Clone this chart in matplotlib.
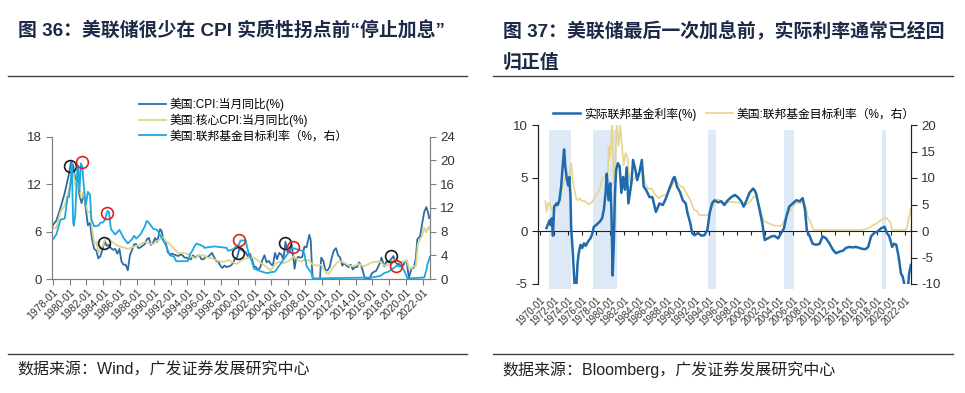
import matplotlib
matplotlib.use('Agg')
import matplotlib.pyplot as plt
from matplotlib.lines import Line2D
import numpy as np

plt.rcParams['font.family'] = ['Liberation Sans', 'Noto Sans CJK SC']
plt.rcParams['axes.unicode_minus'] = False

# ---------------- 图36 数据 ----------------
cpi_dates = ['1978-01', '1978-06', '1978-12', '1979-06', '1979-12', '1980-03', '1980-06', '1980-09', '1980-12',
             '1981-03', '1981-06', '1981-09', '1981-12', '1982-03', '1982-06', '1982-09', '1982-12',
             '1983-03', '1983-06', '1983-09', '1983-12', '1984-03', '1984-06', '1984-09', '1984-12',
             '1985-03', '1985-06', '1985-09', '1985-12', '1986-03', '1986-06', '1986-09', '1986-12',
             '1987-03', '1987-06', '1987-09', '1987-12', '1988-03', '1988-06', '1988-09', '1988-12',
             '1989-03', '1989-06', '1989-09', '1989-12', '1990-03', '1990-06', '1990-10', '1990-12',
             '1991-03', '1991-06', '1991-09', '1991-12', '1992-03', '1992-06', '1992-09', '1992-12',
             '1993-03', '1993-06', '1993-09', '1993-12', '1994-03', '1994-06', '1994-09', '1994-12',
             '1995-03', '1995-06', '1995-09', '1995-12', '1996-03', '1996-06', '1996-09', '1996-12',
             '1997-03', '1997-06', '1997-09', '1997-12', '1998-03', '1998-06', '1998-09', '1998-12',
             '1999-03', '1999-06', '1999-09', '1999-12', '2000-03', '2000-06', '2000-09', '2000-12',
             '2001-03', '2001-06', '2001-09', '2001-12', '2002-03', '2002-06', '2002-09', '2002-12',
             '2003-03', '2003-06', '2003-09', '2003-12', '2004-03', '2004-06', '2004-09', '2004-12',
             '2005-03', '2005-06', '2005-09', '2005-12', '2006-03', '2006-06', '2006-09', '2006-10', '2006-12',
             '2007-03', '2007-06', '2007-09', '2007-12', '2008-03', '2008-07', '2008-09', '2008-11', '2008-12',
             '2009-03', '2009-07', '2009-10', '2009-12', '2010-03', '2010-06', '2010-09', '2010-12',
             '2011-03', '2011-06', '2011-09', '2011-12', '2012-03', '2012-06', '2012-09', '2012-12',
             '2013-03', '2013-06', '2013-09', '2013-12', '2014-03', '2014-06', '2014-09', '2014-12',
             '2015-03', '2015-06', '2015-09', '2015-12', '2016-03', '2016-06', '2016-09', '2016-12',
             '2017-02', '2017-06', '2017-09', '2017-12', '2018-03', '2018-07', '2018-09', '2018-12',
             '2019-03', '2019-06', '2019-09', '2019-12', '2020-02', '2020-05', '2020-09', '2020-12',
             '2021-03', '2021-05', '2021-09', '2021-12', '2022-03', '2022-06', '2022-09', '2022-10']
cpi_values = [6.8, 7.4, 9.0, 10.9, 13.3, 14.8, 14.4, 12.6, 12.5,
              10.6, 9.6, 11.0, 8.9, 6.8, 7.1, 5.0, 3.8,
              3.6, 2.6, 2.9, 3.8, 4.8, 4.2, 4.3, 3.9,
              3.7, 3.8, 3.2, 3.8, 2.2, 1.8, 1.8, 1.1,
              3.0, 3.7, 4.4, 4.4, 3.9, 4.0, 4.2, 4.4,
              5.0, 5.2, 4.3, 4.6, 5.2, 4.7, 6.3, 6.1,
              4.9, 4.7, 3.4, 3.1, 3.2, 3.1, 3.0, 2.9,
              3.1, 3.0, 2.7, 2.7, 2.5, 2.5, 3.0, 2.7,
              2.9, 3.0, 2.5, 2.5, 2.8, 2.8, 3.0, 3.3,
              2.8, 2.3, 2.2, 1.7, 1.4, 1.7, 1.5, 1.6,
              1.7, 2.0, 2.6, 2.7, 3.8, 3.7, 3.5, 3.4,
              2.9, 3.2, 2.6, 1.6, 1.5, 1.1, 1.5, 2.4,
              3.0, 2.1, 2.3, 1.9, 1.7, 3.3, 2.5, 3.3,
              3.1, 2.5, 4.7, 3.4, 3.4, 4.3, 2.1, 1.3, 2.5,
              2.8, 2.7, 2.8, 4.1, 4.0, 5.6, 4.9, 1.1, 0.1,
              -0.4, -2.1, -0.2, 2.7, 2.3, 1.1, 1.1, 1.5,
              2.7, 3.6, 3.9, 3.0, 2.7, 1.7, 2.0, 1.7,
              1.5, 1.8, 1.2, 1.5, 1.5, 2.1, 1.7, 0.8,
              -0.1, 0.1, 0.0, 0.7, 0.9, 1.0, 1.5, 2.1,
              2.7, 1.6, 2.2, 2.1, 2.4, 2.9, 2.3, 1.9,
              1.9, 1.6, 1.7, 2.3, 2.3, 0.1, 1.4, 1.4,
              2.6, 5.0, 5.4, 7.0, 8.5, 9.1, 8.2, 7.7]

core_dates = ['1978-01', '1978-06', '1978-12', '1979-06', '1979-12', '1980-03', '1980-06', '1980-09', '1980-12',
              '1981-03', '1981-06', '1981-09', '1981-12', '1982-03', '1982-06', '1982-09', '1982-12',
              '1983-03', '1983-06', '1983-09', '1983-12', '1984-03', '1984-06', '1984-09', '1984-12',
              '1985-06', '1985-12', '1986-06', '1986-12', '1987-06', '1987-12', '1988-06', '1988-12',
              '1989-06', '1989-12', '1990-06', '1990-12', '1991-03', '1991-06', '1991-12', '1992-06', '1992-12',
              '1993-06', '1993-12', '1994-06', '1994-12', '1995-06', '1995-12', '1996-06', '1996-12',
              '1997-06', '1997-12', '1998-06', '1998-12', '1999-06', '1999-12', '2000-06', '2000-12',
              '2001-06', '2001-12', '2002-06', '2002-12', '2003-06', '2003-12', '2004-06', '2004-12',
              '2005-06', '2005-12', '2006-06', '2006-09', '2006-12', '2007-06', '2007-12', '2008-06', '2008-12',
              '2009-06', '2009-12', '2010-06', '2010-10', '2010-12', '2011-06', '2011-12', '2012-06', '2012-12',
              '2013-06', '2013-12', '2014-06', '2014-12', '2015-06', '2015-12', '2016-06', '2016-12',
              '2017-06', '2017-12', '2018-07', '2018-12', '2019-06', '2019-12', '2020-02', '2020-06', '2020-12',
              '2021-03', '2021-06', '2021-12', '2022-03', '2022-06', '2022-09', '2022-10']
core_values = [6.4, 6.5, 8.5, 9.3, 11.3, 12.2, 13.6, 11.8, 12.2,
               11.3, 10.2, 11.0, 9.5, 8.4, 8.5, 6.3, 4.5,
               4.7, 3.3, 4.0, 4.1, 4.9, 5.1, 5.0, 4.8,
               4.4, 4.1, 4.0, 3.8, 4.0, 4.2, 4.4, 4.7,
               4.5, 4.4, 4.8, 5.2, 5.3, 4.8, 4.4, 3.8, 3.3,
               3.3, 3.2, 2.9, 2.6, 3.0, 3.0, 2.7, 2.6,
               2.4, 2.2, 2.2, 2.4, 2.1, 1.9, 2.4, 2.6,
               2.7, 2.7, 2.3, 1.9, 1.5, 1.1, 1.9, 2.2,
               2.0, 2.2, 2.6, 2.9, 2.6, 2.2, 2.4, 2.4, 1.8,
               1.7, 1.8, 0.9, 0.6, 0.8, 1.6, 2.2, 2.2, 1.9,
               1.6, 1.7, 1.9, 1.6, 1.8, 2.1, 2.2, 2.2,
               1.7, 1.8, 2.4, 2.2, 2.1, 2.3, 2.4, 1.2, 1.6,
               1.6, 4.5, 5.5, 6.5, 5.9, 6.6, 6.3]

ffr_dates = ['1978-01', '1978-06', '1978-12', '1979-06', '1979-10', '1979-12', '1980-03', '1980-04', '1980-06',
             '1980-07', '1980-09', '1980-12', '1981-01', '1981-03', '1981-05', '1981-07', '1981-09', '1981-12',
             '1982-03', '1982-06', '1982-08', '1982-12', '1983-06', '1983-09', '1983-12', '1984-03', '1984-07',
             '1984-09', '1984-12', '1985-06', '1985-12', '1986-06', '1986-12', '1987-06', '1987-09', '1987-12',
             '1988-06', '1988-12', '1989-03', '1989-06', '1989-12', '1990-06', '1990-12', '1991-06', '1991-12',
             '1992-06', '1992-09', '1994-01', '1994-03', '1994-05', '1994-08', '1994-11', '1995-02', '1995-07',
             '1995-12', '1996-01', '1997-03', '1998-09', '1998-11', '1999-06', '1999-11', '2000-02', '2000-05',
             '2000-12', '2001-03', '2001-06', '2001-09', '2001-12', '2002-11', '2003-06', '2004-06', '2004-12',
             '2005-06', '2005-12', '2006-06', '2007-09', '2007-12', '2008-03', '2008-04', '2008-10', '2008-12',
             '2015-12', '2016-12', '2017-06', '2017-12', '2018-06', '2018-12', '2019-07', '2019-10', '2020-03',
             '2022-03', '2022-06', '2022-07', '2022-09', '2022-11']
ffr_values = [6.7, 7.5, 10.0, 10.2, 13.8, 13.8, 17.2, 19.5, 9.5,
              9.0, 10.9, 18.9, 19.1, 14.7, 19.5, 19.0, 15.9, 12.4,
              14.7, 14.2, 10.1, 8.9, 9.0, 9.5, 9.5, 9.9, 11.5,
              11.3, 8.4, 7.5, 8.3, 6.9, 6.0, 6.7, 7.3, 6.8,
              7.5, 8.8, 9.8, 9.5, 8.5, 8.25, 7.0, 5.75, 4.0,
              3.75, 3.0, 3.0, 3.5, 4.25, 4.75, 5.5, 6.0, 5.75,
              5.5, 5.25, 5.5, 5.25, 4.75, 5.0, 5.5, 5.75, 6.5,
              6.5, 5.0, 3.75, 3.0, 1.75, 1.25, 1.0, 1.25, 2.25,
              3.25, 4.25, 5.25, 4.75, 4.25, 2.25, 2.0, 1.0, 0.1,
              0.25, 0.5, 1.0, 1.25, 1.75, 2.25, 2.0, 1.5, 0.1,
              0.25, 1.5, 2.25, 3.0, 3.75]

# CPI 拐点(黑圈, 左轴) 与 最后一次加息(红圈, 右轴)
peak_dates = ['1980-01', '1984-02', '2000-01', '2005-08', '2018-04']
peak_values = [14.3, 4.6, 3.3, 4.55, 2.95]
hike_dates = ['1981-06', '1984-06', '2000-03', '2006-07', '2018-10']
hike_values = [19.7, 11.2, 6.5, 5.45, 2.2]

# ---------------- 图37 数据 ----------------
real_dates = ['1970-12', '1971-03', '1971-05', '1971-07', '1971-09', '1971-11', '1972-01', '1972-05', '1972-07',
              '1972-10', '1973-01', '1973-04', '1973-06', '1973-08', '1973-11', '1974-01', '1974-03', '1974-05',
              '1974-06', '1974-09', '1974-12', '1975-03', '1975-05', '1975-07', '1975-10', '1976-01', '1976-04',
              '1976-07', '1976-11', '1977-03', '1977-06', '1977-09', '1978-01', '1978-07', '1978-11', '1979-02',
              '1979-05', '1979-07', '1979-10', '1980-01', '1980-03', '1980-05', '1980-07', '1980-09', '1980-11',
              '1981-02', '1981-05', '1981-08', '1981-11', '1982-02', '1982-05', '1982-08', '1983-01', '1983-04',
              '1983-08', '1983-11', '1984-03', '1984-07', '1984-10', '1985-02', '1985-08', '1986-01', '1986-07',
              '1987-01', '1987-07', '1988-01', '1988-06', '1989-01', '1989-03', '1989-07', '1989-12', '1990-05',
              '1990-10', '1991-01', '1991-06', '1991-09', '1992-01', '1992-07', '1993-01', '1993-06', '1993-11',
              '1994-03', '1994-07', '1994-11', '1995-05', '1995-11', '1996-04', '1996-10', '1997-04', '1997-10',
              '1998-03', '1998-09', '1999-01', '1999-06', '1999-11', '2000-05', '2000-07', '2000-10', '2001-04',
              '2001-09', '2002-01', '2002-06', '2003-01', '2003-06', '2003-12', '2004-05', '2004-10', '2005-02',
              '2005-07', '2006-01', '2006-07', '2007-01', '2007-06', '2007-10', '2008-01', '2008-06', '2008-11',
              '2009-05', '2009-11', '2010-04', '2010-10', '2011-04', '2011-10', '2012-03', '2012-09', '2013-03',
              '2013-08', '2014-02', '2014-07', '2015-01', '2015-07', '2016-01', '2016-06', '2016-10', '2017-03',
              '2017-08', '2018-02', '2018-08', '2019-02', '2019-06', '2019-10', '2020-03', '2020-06', '2020-10',
              '2021-02', '2021-06', '2021-09', '2022-01', '2022-06', '2022-08', '2022-11']
real_values = [0.27, 0.72, 1.0, 0.57, 1.2, -0.45, 2.3, 2.6, 2.45,
               2.9, 4.2, 6.4, 7.7, 6.1, 4.8, 4.3, 5.1, 3.2,
               0.4, -2.1, -5.2, -5.2, -3.05, -2.1, -1.3, -1.6, -1.16,
               -1.4, -1.0, -0.7, -0.3, 0.4, 0.57, 0.88, 1.2, 2.0,
               3.6, 5.4, 2.9, 4.5, 1.7, -4.2, -1.16, 3.6, 5.75,
               6.4, 6.1, 3.6, 5.1, 3.9, 6.0, 2.6, 4.5, 6.7,
               5.75, 4.8, 5.6, 6.7, 4.2, 3.9, 3.2, 3.2, 1.8,
               2.6, 2.45, 3.2, 4.0, 5.0, 5.1, 4.2, 3.7, 2.9,
               2.6, 1.7, 0.7, -0.2, -0.4, -0.2, -0.44, -0.4, 0.1,
               1.7, 2.6, 2.9, 2.7, 2.8, 2.45, 2.9, 3.2, 3.4,
               3.2, 2.8, 2.3, 2.9, 3.6, 4.0, 3.9, 3.6, 2.1,
               0.7, -0.85, -0.7, -0.5, -0.47, -0.7, -0.2, 0.25, 1.35,
               2.3, 2.6, 2.9, 2.8, 3.1, 2.0, 0.1, -0.5, -1.2,
               -1.3, -1.2, -0.5, -0.7, -1.2, -1.8, -2.1, -1.95, -1.85,
               -1.6, -1.5, -1.55, -1.5, -1.6, -1.7, -1.7, -1.5, -0.5,
               -0.2, -0.05, 0.25, 0.4, -0.2, -0.5, -1.5, -1.2, -1.3,
               -2.4, -4.0, -4.3, -5.3, -5.3, -4.0, -3.2]

target_dates = ['1970-10', '1970-12', '1971-03', '1971-06', '1971-09', '1971-12', '1972-06', '1972-12', '1973-03',
                '1973-06', '1973-09', '1973-12', '1974-03', '1974-06', '1974-07', '1974-09', '1974-12', '1975-03',
                '1975-06', '1975-09', '1975-12', '1976-06', '1976-12', '1977-06', '1977-12', '1978-06', '1978-12',
                '1979-06', '1979-09', '1979-10', '1979-12', '1980-03', '1980-04', '1980-07', '1980-09', '1980-12',
                '1981-03', '1981-06', '1981-09', '1981-12', '1982-03', '1982-06', '1982-09', '1982-12', '1983-06',
                '1983-12', '1984-06', '1984-09', '1984-12', '1985-06', '1985-12', '1986-06', '1986-12', '1987-06',
                '1987-12', '1988-06', '1988-12', '1989-03', '1989-06', '1989-12', '1990-06', '1990-12', '1991-06',
                '1991-12', '1992-06', '1992-09', '1993-12', '1994-03', '1994-06', '1994-09', '1994-12', '1995-03',
                '1995-09', '1996-01', '1997-03', '1998-09', '1998-12', '1999-06', '1999-12', '2000-06', '2000-12',
                '2001-03', '2001-06', '2001-12', '2002-11', '2003-06', '2004-06', '2004-12', '2005-06', '2005-12',
                '2006-06', '2007-08', '2007-12', '2008-03', '2008-06', '2008-10', '2008-12', '2015-11', '2016-06',
                '2016-12', '2017-06', '2017-12', '2018-06', '2018-12', '2019-06', '2019-09', '2019-12', '2020-03',
                '2022-02', '2022-05', '2022-07', '2022-09', '2022-11']
target_values = [5.6, 3.6, 5.3, 5.0, 4.0, 4.2, 4.5, 5.8, 8.4,
                 9.3, 10.5, 9.6, 10.0, 12.8, 12.0, 9.3, 7.7, 6.0,
                 5.8, 6.2, 5.7, 5.6, 5.0, 5.5, 6.6, 7.6, 10.0,
                 10.3, 11.4, 15.9, 13.8, 17.6, 21.0, 9.0, 11.0, 21.0,
                 16.0, 20.0, 15.9, 12.4, 14.7, 14.2, 10.3, 8.9, 10.0,
                 10.5, 12.0, 11.5, 9.0, 8.0, 8.0, 6.8, 6.2, 6.7,
                 6.8, 7.6, 8.8, 10.0, 9.5, 8.5, 8.2, 7.0, 5.8,
                 4.0, 3.7, 3.0, 3.0, 3.5, 4.3, 4.8, 5.5, 6.0,
                 5.8, 5.3, 5.5, 5.3, 4.8, 5.0, 5.5, 6.5, 6.5,
                 5.0, 3.8, 1.8, 1.3, 1.0, 1.0, 2.3, 3.3, 4.3,
                 5.3, 5.3, 4.3, 2.5, 2.0, 1.0, 0.2, 0.2, 0.4,
                 0.6, 1.1, 1.4, 1.9, 2.4, 2.4, 2.0, 1.6, 0.2,
                 0.2, 1.0, 2.3, 3.1, 4.3]

# 加息周期阴影 (起, 止)
band_starts = ['1971-04', '1977-08', '1993-12', '2004-10', '2018-09']
band_ends = ['1974-05', '1981-01', '1995-02', '2006-03', '2019-05']


def to_year(dates):
    return np.array([int(d[:4]) + (int(d[5:7]) - 1) / 12 for d in dates])


title_color = '#1c2a48'
tick_color = '#333333'
spine_color = '#7f7f7f'

fig = plt.figure(figsize=(9.65, 3.93), dpi=100)

# ---------------- 标题/分隔线/来源 ----------------
fig.text(18 / 965, 1 - 31 / 393, '图 36：美联储很少在 CPI 实质性拐点前“停止加息”',
         fontsize=13.6, fontweight='bold', color=title_color, va='center')
fig.text(503 / 965, 1 - 31 / 393, '图 37：美联储最后一次加息前，实际利率通常已经回',
         fontsize=13.6, fontweight='bold', color=title_color, va='center')
fig.text(503 / 965, 1 - 62 / 393, '归正值',
         fontsize=13.6, fontweight='bold', color=title_color, va='center')
for x0, x1 in [(8, 467), (493, 953)]:
    for yy in [76, 354]:
        fig.add_artist(Line2D([x0 / 965, x1 / 965], [1 - yy / 393, 1 - yy / 393],
                              color='#404040', lw=1.0))
fig.text(17 / 965, 1 - 370 / 393, '数据来源：Wind，广发证券发展研究中心',
         fontsize=11.5, color='#222222', va='center')
fig.text(502 / 965, 1 - 370 / 393, '数据来源：Bloomberg，广发证券发展研究中心',
         fontsize=11.5, color='#222222', va='center')

# ---------------- 图36 ----------------
ax1 = fig.add_axes([52 / 965, 1 - 279 / 393, 378 / 965, 142.3 / 393])
ax1r = ax1.twinx()

l_cpi, = ax1.plot(to_year(cpi_dates), cpi_values, color='#2f6ca3', lw=1.3, label='美国:CPI:当月同比(%)')
l_core, = ax1.plot(to_year(core_dates), core_values, color='#ddd58c', lw=1.3, label='美国:核心CPI:当月同比(%)')
ax1.plot(to_year(peak_dates), peak_values, 'o', ms=8.5, mfc='none', mec='#1a1a1a', mew=1.2, zorder=5)
l_ffr, = ax1r.plot(to_year(ffr_dates), ffr_values, color='#1ea8e0', lw=1.3, label='美国:联邦基金目标利率（%，右）')
ax1r.plot(to_year(hike_dates), hike_values, 'o', ms=8.5, mfc='none', mec='#e02020', mew=1.2, zorder=5)

ax1.set_xlim(1977.9, 2022.85)
ax1.set_ylim(0, 18)
ax1.set_yticks([0, 6, 12, 18])
ax1r.set_ylim(0, 24)
ax1r.set_yticks(range(0, 25, 4))
years1 = list(range(1978, 2023, 2))
ax1.set_xticks(years1)
ax1.set_xticklabels([f'{y}-01' for y in years1], rotation=45, ha='right',
                    rotation_mode='anchor', fontsize=7.5, color=tick_color)
for a in (ax1, ax1r):
    a.spines['top'].set_visible(False)
    for s in ('left', 'right', 'bottom'):
        a.spines[s].set_color(spine_color)
    a.tick_params(colors=spine_color, labelcolor=tick_color, length=4, labelsize=9.5)
ax1.tick_params(axis='x', labelsize=7.5, pad=2)

fig.legend(handles=[l_cpi, l_core, l_ffr], loc='upper left',
           bbox_to_anchor=(139 / 965, 1 - 98 / 393), frameon=False, fontsize=8.5,
           handlelength=2.3, handletextpad=0.3, labelspacing=0.25, borderaxespad=0, borderpad=0)

# ---------------- 图37 ----------------
ax2 = fig.add_axes([538 / 965, 1 - 284 / 393, 373 / 965, 159 / 393])
ax2r = ax2.twinx()
ax2.set_zorder(ax2r.get_zorder() + 1)
ax2.patch.set_visible(False)

for s0, s1 in zip(to_year(band_starts), to_year(band_ends)):
    ax2r.axvspan(s0, s1, ymin=-0.03, ymax=0.97, color='#dde9f6', lw=0, clip_on=False, zorder=0)

l_tgt, = ax2r.plot(to_year(target_dates), target_values, color='#e6d58c', lw=1.2,
                   label='美国:联邦基金目标利率（%，右）')
l_real, = ax2.plot(to_year(real_dates), real_values, color='#1f69ad', lw=1.8, label='实际联邦基金利率(%)')

ax2.set_xlim(1969.7, 2022.85)
ax2.set_ylim(-5, 10)
ax2.set_yticks([-5, 0, 5, 10])
ax2r.set_ylim(-10, 20)
ax2r.set_yticks(range(-10, 21, 5))
years2 = list(range(1970, 2023, 2))
ax2.set_xticks(years2)
ax2.set_xticklabels([f'{y}-01' for y in years2], rotation=45, ha='right',
                    rotation_mode='anchor', fontsize=7, color=tick_color)
for a in (ax2, ax2r):
    a.spines['top'].set_visible(False)
    a.spines['bottom'].set_visible(False)
    for s in ('left', 'right'):
        a.spines[s].set_color('#222222')
    a.tick_params(colors='#222222', labelcolor=tick_color, length=4, labelsize=9.5)
ax2.tick_params(axis='x', length=0, pad=8, labelsize=7)

zero_axis = ax2.secondary_xaxis(1 / 3)
zero_axis.set_xticks(years2)
zero_axis.set_xticklabels([])
zero_axis.spines['bottom'].set_color('#222222')
zero_axis.tick_params(axis='x', direction='out', length=3, color='#222222')

fig.legend(handles=[l_real, l_tgt], loc='center left', ncol=2,
           bbox_to_anchor=(553 / 965, 1 - 114 / 393), frameon=False, fontsize=8.5,
           handlelength=2.3, handletextpad=0.3, columnspacing=0.8, borderaxespad=0, borderpad=0)

fig.savefig('out.png', dpi=100)
